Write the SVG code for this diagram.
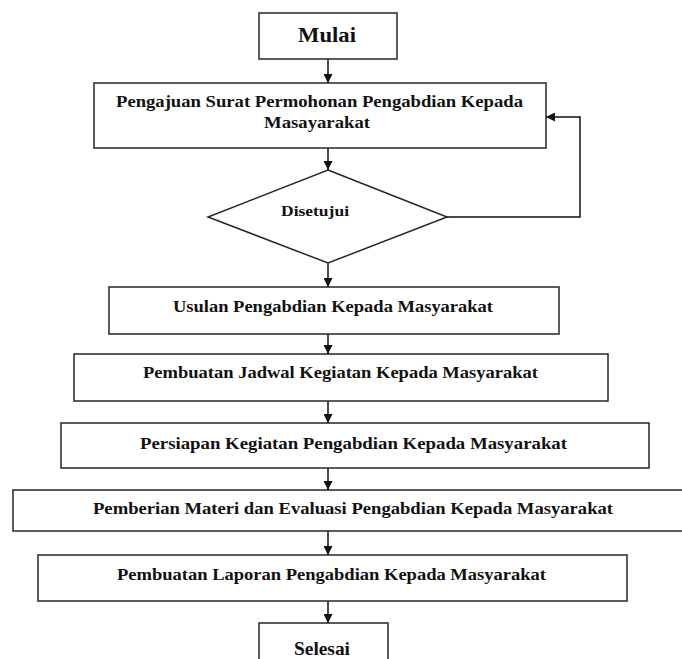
<svg xmlns="http://www.w3.org/2000/svg" width="682" height="659" viewBox="0 0 682 659">
<style>
.box{fill:#fff;stroke:#262626;stroke-width:1.5}
.t{font-family:"Liberation Serif","Times New Roman",serif;font-weight:bold;fill:#111;text-anchor:middle;font-size:16px}
.c{fill:none;stroke:#111;stroke-width:1.5}
</style>
<defs>
<marker id="ah" viewBox="0 0 10 10" refX="10" refY="5" markerWidth="9" markerHeight="9" markerUnits="userSpaceOnUse" orient="auto">
<path d="M0,0 L10,5 L0,10 Z" fill="#111"/>
</marker>
</defs>
<rect width="682" height="659" fill="#fff"/>
<g id="connectors">
<line class="c" x1="328" y1="59" x2="328" y2="83" marker-end="url(#ah)"/>
<line class="c" x1="328" y1="148" x2="328" y2="170" marker-end="url(#ah)"/>
<line class="c" x1="328" y1="263" x2="328" y2="287" marker-end="url(#ah)"/>
<line class="c" x1="328" y1="334" x2="328" y2="354" marker-end="url(#ah)"/>
<line class="c" x1="328" y1="401" x2="328" y2="423" marker-end="url(#ah)"/>
<line class="c" x1="328" y1="468" x2="328" y2="490" marker-end="url(#ah)"/>
<line class="c" x1="328" y1="531" x2="328" y2="555" marker-end="url(#ah)"/>
<line class="c" x1="328" y1="601" x2="328" y2="623" marker-end="url(#ah)"/>
<polyline class="c" points="447,217 580,217 580,117 546,117" marker-end="url(#ah)"/>
</g>
<g id="mulai">
<rect class="box" x="259" y="13" width="138" height="46"/>
<text class="t" x="327" y="42" style="font-size:22px" textLength="58" lengthAdjust="spacingAndGlyphs">Mulai</text>
</g>
<g id="pengajuan">
<rect class="box" x="94" y="83" width="452" height="65"/>
<text class="t" x="319.5" y="107" textLength="407" lengthAdjust="spacingAndGlyphs">Pengajuan  Surat Permohonan Pengabdian  Kepada</text>
<text class="t" x="317" y="128" textLength="106" lengthAdjust="spacingAndGlyphs">Masayarakat</text>
</g>
<g id="disetujui">
<polygon class="box" points="328,170 447,217 328,263 208,217"/>
<text class="t" x="315" y="216" style="font-size:15px" textLength="68" lengthAdjust="spacingAndGlyphs">Disetujui</text>
</g>
<g id="usulan">
<rect class="box" x="109" y="287" width="450" height="47"/>
<text class="t" x="333" y="312" textLength="320" lengthAdjust="spacingAndGlyphs">Usulan Pengabdian  Kepada Masyarakat</text>
</g>
<g id="jadwal">
<rect class="box" x="74" y="354" width="534" height="47"/>
<text class="t" x="340.5" y="378" textLength="395" lengthAdjust="spacingAndGlyphs">Pembuatan  Jadwal Kegiatan  Kepada  Masyarakat</text>
</g>
<g id="persiapan">
<rect class="box" x="61" y="423" width="588" height="45"/>
<text class="t" x="353.5" y="449" textLength="427" lengthAdjust="spacingAndGlyphs">Persiapan Kegiatan  Pengabdian  Kepada  Masyarakat</text>
</g>
<g id="pemberian">
<rect class="box" x="13" y="490" width="672" height="41"/>
<text class="t" x="353" y="514" textLength="520" lengthAdjust="spacingAndGlyphs">Pemberian Materi dan Evaluasi Pengabdian  Kepada  Masyarakat</text>
</g>
<g id="laporan">
<rect class="box" x="38" y="555" width="589" height="46"/>
<text class="t" x="331.5" y="580" textLength="429" lengthAdjust="spacingAndGlyphs">Pembuatan  Laporan Pengabdian  Kepada Masyarakat</text>
</g>
<g id="selesai">
<rect class="box" x="259" y="623" width="129" height="50"/>
<text class="t" x="322" y="655" style="font-size:18px" textLength="56" lengthAdjust="spacingAndGlyphs">Selesai</text>
</g>
</svg>
